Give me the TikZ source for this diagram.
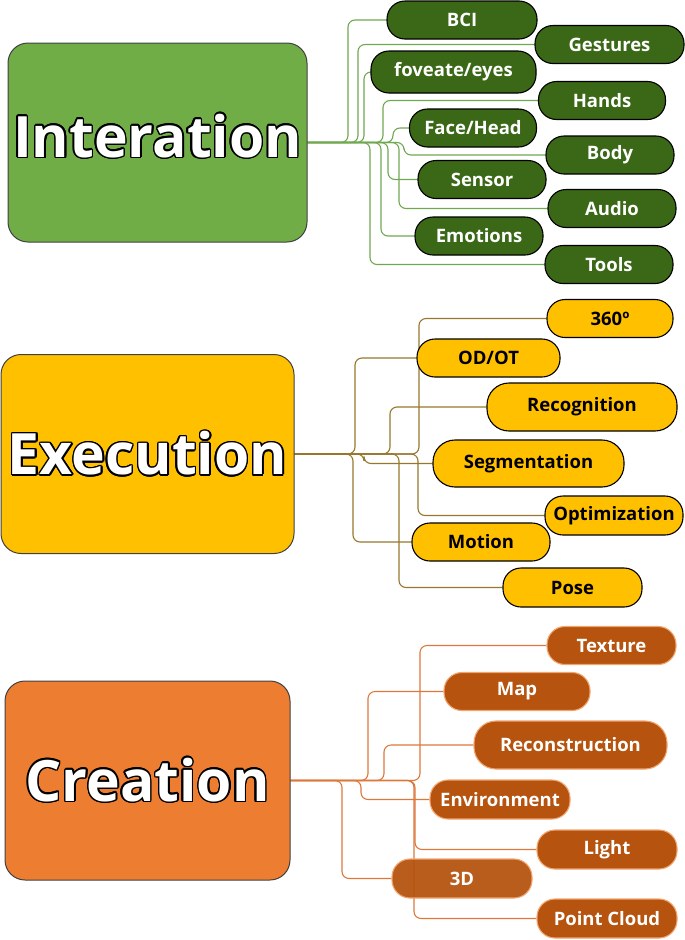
\documentclass[tikz,border=0pt]{standalone}
\usepackage{fontspec}
\setmainfont{Open Sans}
\usepackage{contour}
\contourlength{1.5pt}
\usetikzlibrary{backgrounds}
\definecolor{intfill}{RGB}{112,173,71}
\definecolor{intleaf}{RGB}{58,104,22}
\definecolor{intline}{RGB}{112,168,80}
\definecolor{exefill}{RGB}{255,192,0}
\definecolor{exeline}{RGB}{150,120,45}
\definecolor{crefill}{RGB}{237,125,49}
\definecolor{creleaf}{RGB}{181,83,15}
\definecolor{creline}{RGB}{220,120,60}
\tikzset{
  topic/.style={
    draw=black!75,
    line width=1pt,
    rounded corners=20pt,
    minimum height=199pt,
    inner sep=0pt,
    font=\fontsize{57}{60}\selectfont\bfseries
  },
  leaf/.style={
    rounded corners=18pt,
    minimum height=38pt,
    inner sep=0pt,
    line width=1.1pt,
    font=\fontsize{18.5}{20}\selectfont\bfseries
  },
  int leaf/.style={leaf, draw=black, fill=intleaf, text=white},
  exe leaf/.style={leaf, draw=black, fill=exefill, text=black},
  cre leaf/.style={leaf, draw=crefill!70, fill=creleaf, text=white},
  link/.style={line width=1.1pt, rounded corners=7pt}
}

\begin{document}
\begin{tikzpicture}[x=1pt, y=-1pt]
  \useasboundingbox (0,0) rectangle (685,940);

  % Interation
  \node[topic, fill=intfill, minimum width=299pt, text depth=14pt] (int) at (157.5,142.5)
    {\textcolor{white}{\contour{black}{Interation}}};
  \node[int leaf, minimum width=150pt] (bci) at (462,20) {BCI};
  \node[int leaf, minimum width=149pt] (gest) at (609.5,44.5) {Gestures};
  \node[int leaf, minimum width=165pt, minimum height=42pt] (fove) at (453.5,72) {foveate/eyes};
  \node[int leaf, minimum width=127pt] (hand) at (602,100.5) {Hands};
  \node[int leaf, minimum width=127pt] (face) at (473,128) {Face/Head};
  \node[int leaf, minimum width=128pt] (body) at (610,155) {Body};
  \node[int leaf, minimum width=128pt] (sens) at (482,179.5) {Sensor};
  \node[int leaf, minimum width=128pt] (audi) at (612,208.5) {Audio};
  \node[int leaf, minimum width=128pt] (emot) at (479,236) {Emotions};
  \node[int leaf, minimum width=128pt] (tool) at (609,264.5) {Tools};

  % Execution
  \node[topic, fill=exefill, minimum width=293pt] (exe) at (147.5,454)
    {\textcolor{white}{\contour{black}{Execution}}};
  \node[exe leaf, minimum width=126pt] (deg) at (610,318.5) {360º};
  \node[exe leaf, minimum width=143pt] (odot) at (488.5,358) {OD/OT};
  \node[exe leaf, minimum width=190pt, minimum height=48pt, rounded corners=22pt] (reco) at (582,407) {Recognition};
  \node[exe leaf, minimum width=191pt, minimum height=47pt, rounded corners=22pt] (segm) at (528.5,463.5) {Segmentation};
  \node[exe leaf, minimum width=138pt, minimum height=39pt] (opti) at (614,515.5) {Optimization};
  \node[exe leaf, minimum width=138pt] (moti) at (481,542) {Motion};
  \node[exe leaf, minimum width=139pt, minimum height=39pt] (pose) at (572.5,587.5) {Pose};

  % Creation
  \node[topic, fill=crefill, minimum width=285pt] (cre) at (147.5,780.5)
    {\textcolor{white}{\contour{black}{Creation}}};
  \node[cre leaf, minimum width=129pt] (txtr) at (611.5,645.5) {Texture};
  \node[cre leaf, minimum width=146pt] (map) at (517,691.5) {Map};
  \node[cre leaf, minimum width=193pt, minimum height=48pt, rounded corners=22pt] (recn) at (570.5,745) {Reconstruction};
  \node[cre leaf, minimum width=140pt, minimum height=39pt] (envi) at (500,799.5) {Environment};
  \node[cre leaf, minimum width=140pt, minimum height=39pt] (ligh) at (607,849.5) {Light};
  \node[cre leaf, minimum width=140pt, minimum height=39pt, fill opacity=0.94, text opacity=1] (thrd) at (462,878.5) {3D};
  \node[cre leaf, minimum width=140pt, minimum height=39pt] (pcld) at (607,918.5) {Point Cloud};

  % Branches
  \begin{scope}[on background layer]
    \foreach \n/\vx in {bci/348, gest/358, fove/364, hand/383, face/393, body/404, sens/388, audi/399, emot/381, tool/370}
      \draw[link, intline] (int.east) -| (\vx,0 |- \n.west) -- (\n.west);
    \foreach \n/\vx in {deg/419, odot/355, reco/390, segm/364, opti/418, moti/353, pose/399}
      \draw[link, exeline] (exe.east) -| (\vx,0 |- \n.west) -- (\n.west);
    \foreach \n/\vx in {txtr/420, map/368, recn/384, envi/361, ligh/415, thrd/342, pcld/414}
      \draw[link, creline] (cre.east) -| (\vx,0 |- \n.west) -- (\n.west);
  \end{scope}
\end{tikzpicture}
\end{document}
